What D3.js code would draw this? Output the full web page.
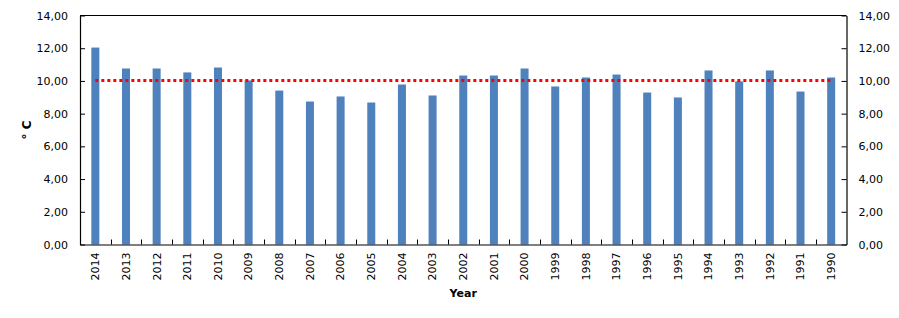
<!DOCTYPE html>
<html><head><meta charset="utf-8">
<script src="https://cdn.jsdelivr.net/npm/d3@7"></script>
<style>body{margin:0;background:#fff}svg{display:block}text{font-family:"DejaVu Sans",Verdana,sans-serif}</style>
</head><body><svg id="c" width="899" height="318"></svg>
<script>
const years = ["2014","2013","2012","2011","2010","2009","2008","2007","2006","2005","2004","2003","2002","2001","2000","1999","1998","1997","1996","1995","1994","1993","1992","1991","1990"];
const temps = [12.04,10.76,10.76,10.52,10.82,10.03,9.41,8.74,9.05,8.68,9.78,9.11,10.33,10.33,10.76,9.66,10.21,10.39,9.29,8.99,10.64,9.97,10.64,9.35,10.21];
const average = [10.03];
const yTicks = [0,2,4,6,8,10,12,14];

const svg = d3.select("#c");
const L = 80, R = 846.5, T = 15.5, B = 244.5;
const x = d3.scaleBand().domain(years).range([L, R]).padding(0);
const y = d3.scaleLinear().domain([0, 14]).range([B, T]);
const fmt = d => d3.format(".2f")(d).replace(".", ",");
const barW = 8;

// bars
svg.append("g").selectAll("rect").data(years).join("rect")
  .attr("x", d => x(d) + x.bandwidth()/2 - barW/2)
  .attr("y", (d,i) => y(temps[i]))
  .attr("width", barW)
  .attr("height", (d,i) => y(0) - y(temps[i]))
  .attr("fill", "#4F81BD");

// average dotted line
svg.append("line")
  .attr("x1", x(years[0]) + x.bandwidth()/2)
  .attr("x2", x(years[years.length-1]) + x.bandwidth()/2)
  .attr("y1", y(average[0])).attr("y2", y(average[0]))
  .attr("stroke", "#FF0000").attr("stroke-width", 3)
  .attr("stroke-dasharray", "3 3");

// frame lines (top, right, left, bottom)
const fr = svg.append("g").attr("stroke", "#000").attr("stroke-width", 1.2).attr("fill","none");
fr.append("line").attr("x1", L).attr("x2", R).attr("y1", T).attr("y2", T);

// left axis
const yl = svg.append("g").attr("transform", `translate(${L},0)`)
  .call(d3.axisLeft(y).tickValues(yTicks).tickFormat(fmt).tickSizeInner(-5).tickSizeOuter(0).tickPadding(12));
// right axis
const yr = svg.append("g").attr("transform", `translate(${R},0)`)
  .call(d3.axisRight(y).tickValues(yTicks).tickFormat(fmt).tickSizeInner(-5).tickSizeOuter(0).tickPadding(12));
// bottom axis
const xa = svg.append("g").attr("transform", `translate(0,${B})`)
  .call(d3.axisBottom(x).tickSize(0).tickSizeOuter(0));
// category boundary ticks (inward)
xa.selectAll(".bt").data(years.slice(1)).join("line").attr("class","bt")
  .attr("x1", d => Math.round(x(d)) + 0.5).attr("x2", d => Math.round(x(d)) + 0.5)
  .attr("y1", 0).attr("y2", -5).attr("stroke", "#000");
xa.selectAll(".tick text")
  .attr("transform", "rotate(-90)")
  .attr("text-anchor", "end")
  .attr("x", -8).attr("y", 0).attr("dy", "0.35em");

[yl, yr, xa].forEach(g => {
  g.selectAll(".domain").attr("stroke", "#000").attr("stroke-width", 1.2);
  g.selectAll(".tick line").attr("stroke", "#000");
  g.selectAll("text").attr("font-size", 11).attr("fill", "#000")
    .attr("font-family", '"DejaVu Sans",Verdana,sans-serif');
});

// axis titles
svg.append("text").attr("x", (L+R)/2).attr("y", 297).attr("text-anchor","middle")
  .attr("font-size", 11).attr("font-weight","bold").text("Year");
svg.append("text").attr("transform", `translate(31,${(T+B)/2}) rotate(-90)`)
  .attr("text-anchor","middle").attr("font-size", 12).attr("font-weight","bold").text("° C");
</script></body></html>
